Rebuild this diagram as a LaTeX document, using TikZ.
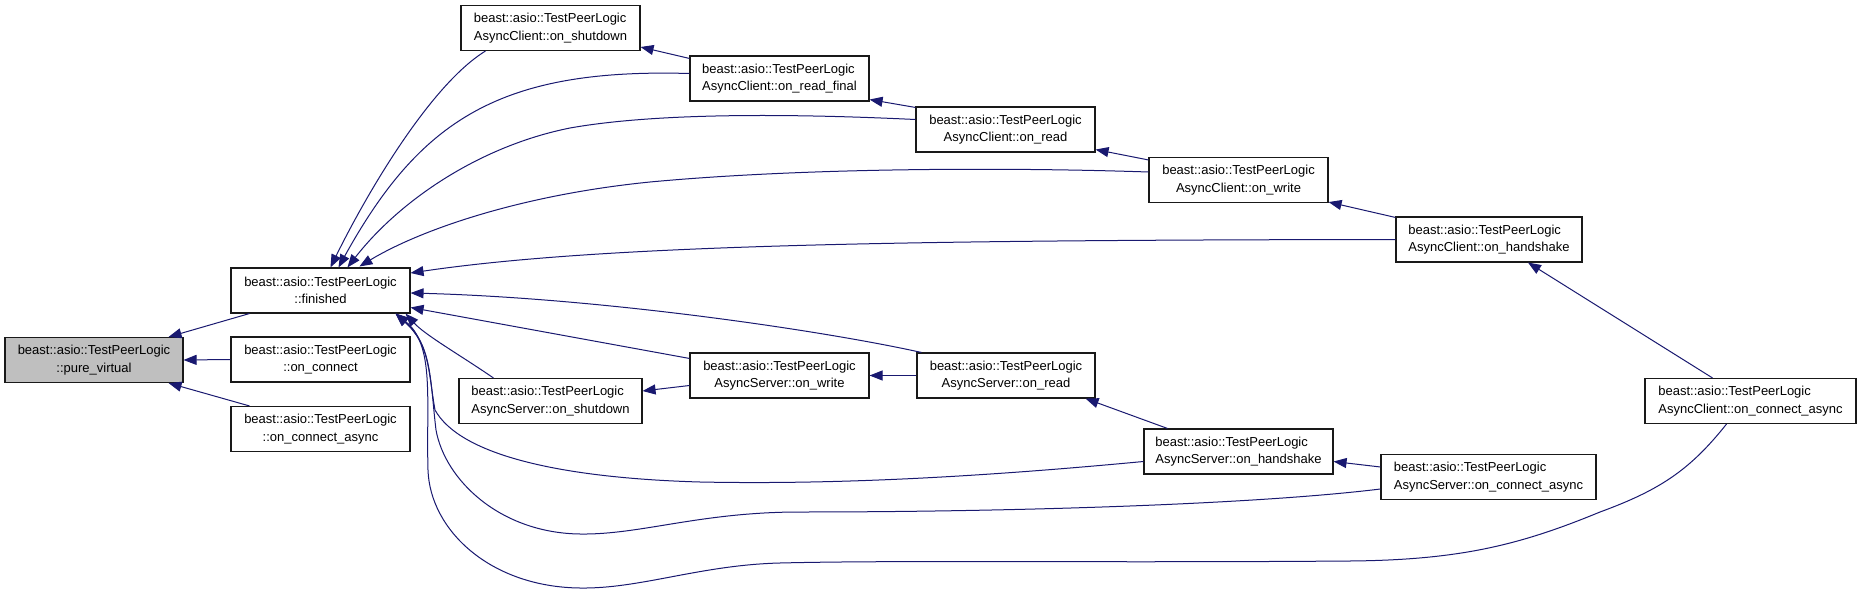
\documentclass[tikz,border=0pt]{standalone}
\usepackage{fontspec}
\setmainfont{Liberation Sans}
\usetikzlibrary{arrows.meta,calc}
\definecolor{edgecol}{HTML}{191970}
\definecolor{pvfill}{HTML}{BFBFBF}
\begin{document}
\begin{tikzpicture}[x=1pt,y=-1pt,
  box/.style={draw=black!90, line width=1.1pt, fill=white, inner sep=0pt, minimum height=45pt, font=\fontsize{13}{17.5}\selectfont},
  edge/.style={draw=edgecol, line width=1pt, -{Triangle[length=13pt,width=10pt]}},
]
\useasboundingbox[fill=white] (0,0) rectangle (1861,594);

% column 0
\node[box, minimum width=178pt, fill=pvfill, align=center] (PV) at (94,360) {beast::asio::TestPeerLogic\\::pure\_virtual};
% column 1
\node[box, minimum width=179pt, align=center] (FIN) at (320.5,290.5) {beast::asio::TestPeerLogic\\::finished};
\node[box, minimum width=179pt, align=center] (ONC) at (320.5,359.5) {beast::asio::TestPeerLogic\\::on\_connect};
\node[box, minimum width=179pt, align=center] (ONCA) at (320.5,429) {beast::asio::TestPeerLogic\\::on\_connect\_async};
% client chain
\node[box, minimum width=179pt, align=left] (CLsd) at (550.5,28) {beast::asio::TestPeerLogic\\AsyncClient::on\_shutdown};
\node[box, minimum width=179pt, align=left] (CLrf) at (779.5,78.5) {beast::asio::TestPeerLogic\\AsyncClient::on\_read\_final};
\node[box, minimum width=179pt, align=center] (CLrd) at (1005.5,129.5) {beast::asio::TestPeerLogic\\AsyncClient::on\_read};
\node[box, minimum width=179pt, align=center] (CLwr) at (1238.5,180) {beast::asio::TestPeerLogic\\AsyncClient::on\_write};
\node[box, minimum width=186pt, align=left] (CLhs) at (1489,239.5) {beast::asio::TestPeerLogic\\AsyncClient::on\_handshake};
\node[box, minimum width=211pt, align=left] (CLca) at (1750.5,401) {beast::asio::TestPeerLogic\\AsyncClient::on\_connect\_async};
% server chain
\node[box, minimum width=183pt, align=left] (SVsd) at (550.5,401) {beast::asio::TestPeerLogic\\AsyncServer::on\_shutdown};
\node[box, minimum width=179pt, align=center] (SVwr) at (779.5,375.5) {beast::asio::TestPeerLogic\\AsyncServer::on\_write};
\node[box, minimum width=178pt, align=center] (SVrd) at (1006,375.5) {beast::asio::TestPeerLogic\\AsyncServer::on\_read};
\node[box, minimum width=189pt, align=left] (SVhs) at (1238.5,451.5) {beast::asio::TestPeerLogic\\AsyncServer::on\_handshake};
\node[box, minimum width=215pt, align=left] (SVca) at (1488.5,477) {beast::asio::TestPeerLogic\\AsyncServer::on\_connect\_async};

% edges to pure_virtual
\draw[edge] ($(FIN.south west)+(19,0)$) -- ($(PV.north east)+(-15,0)$);
\draw[edge] (ONC.west) -- (PV.east);
\draw[edge] ($(ONCA.north west)+(19,0)$) -- ($(PV.south east)+(-15,0)$);

% client chain edges
\draw[edge] ($(CLrf.north west)+(0,3)$) -- ($(CLsd.east)+(0,19)$);
\draw[edge] ($(CLrd.north west)+(0,1)$) -- ($(CLrf.south east)+(0,-2)$);
\draw[edge] ($(CLwr.north west)+(0,3)$) -- ($(CLrd.south east)+(0,-3)$);
\draw[edge] ($(CLhs.north west)+(0,1)$) -- ($(CLwr.south east)+(0,-1)$);
\draw[edge] ($(CLca.north)+(-38,0)$) -- ($(CLhs.south)+(39,0)$);

% server chain edges
\draw[edge] ($(SVwr.west)+(0,10)$) -- ($(SVsd.east)+(0,-10)$);
\draw[edge] (SVrd.west) -- (SVwr.east);
\draw[edge] ($(SVhs.north west)+(24,0)$) -- ($(SVrd.south east)+(-10,0)$);
\draw[edge] ($(SVca.west)+(0,-10)$) -- ($(SVhs.east)+(0,10)$);

% edges to finished (top)
\draw[edge] ($(CLsd.south west)+(25,0)$) .. controls (430,85) and (366,195) .. ($(FIN.north west)+(100,0)$);
\draw[edge] ($(CLrf.west)+(0,-5)$) .. controls (500,68) and (420,120) .. ($(FIN.north west)+(108,0)$);
\draw[edge] ($(CLrd.west)+(0,-10)$) .. controls (800,114) and (660,112) .. (570,128) .. controls (480,146) and (400,200) .. ($(FIN.north west)+(117,0)$);
\draw[edge] ($(CLwr.west)+(0,-8)$) .. controls (1000,167) and (800,168) .. (650,182) .. controls (520,195) and (420,230) .. ($(FIN.north west)+(129,-1)$);

% edges to finished (right)
\draw[edge] (CLhs.west) .. controls (900,240) and (600,245) .. ($(FIN.east)+(0,-17.5)$);
\draw[edge] ($(SVrd.north west)+(5,0)$) .. controls (820,330) and (600,298) .. ($(FIN.east)+(0,2.5)$);
\draw[edge] ($(SVwr.north west)+(0,6)$) -- ($(FIN.east)+(0,17)$);

% edges to finished (bottom right)
\draw[edge] ($(SVsd.north west)+(35,0)$) .. controls (460,355) and (425,335) .. ($(FIN.south east)+(-5,0)$);
\draw[edge] ($(SVhs.west)+(0,10)$) .. controls (1000,475) and (850,485) .. (700,482) .. controls (560,478) and (460,455) .. (435,410) .. controls (428,370) and (430,345) .. ($(FIN.south east)+(-15,0)$);
\draw[edge] ($(SVca.west)+(0,12)$) .. controls (1250,505) and (1000,512) .. (800,512) .. controls (700,512) and (640,535) .. (580,534) .. controls (500,533) and (445,480) .. (436,430) .. controls (430,380) and (432,345) .. ($(FIN.south east)+(-15,0)$);
\draw[edge] ($(CLca.south)+(-24,0)$) .. controls (1690,470) and (1660,490) .. (1600,512) .. controls (1520,545) and (1460,560) .. (1350,561) .. controls (1100,563) and (900,560) .. (780,563) .. controls (700,565) and (640,589) .. (580,588) .. controls (490,587) and (430,530) .. (428,470) .. controls (426,400) and (435,345) .. ($(FIN.south east)+(-15,0)$);
\end{tikzpicture}
\end{document}
